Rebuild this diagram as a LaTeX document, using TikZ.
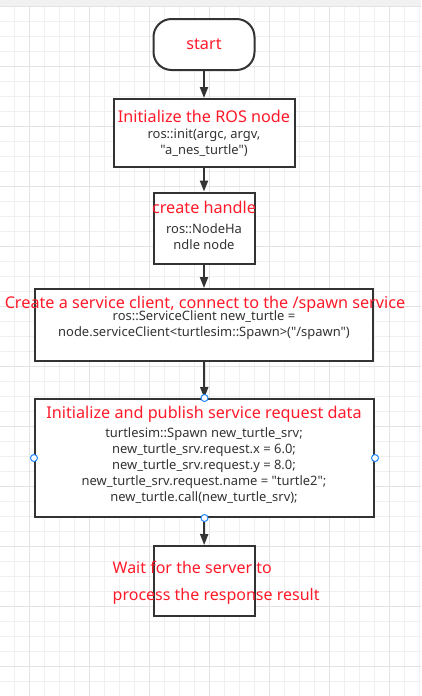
\documentclass[tikz,border=0pt]{standalone}
\usepackage{fontspec}
\setmainfont{Noto Sans}
\newfontfamily\codefont{Noto Sans}
\usetikzlibrary{arrows.meta}
\definecolor{edge}{HTML}{333333}
\definecolor{txtdark}{HTML}{333333}
\definecolor{titlered}{HTML}{FF1A2A}
\definecolor{gridminor}{HTML}{F0F0F0}
\definecolor{gridmajor}{HTML}{E3E3E3}
\definecolor{topbar}{HTML}{F1F1F1}
\definecolor{selblue}{HTML}{1E88FF}
\tikzset{
  box/.style={draw=edge, line width=2pt, fill=white, inner sep=0pt},
  term/.style={box, rounded corners=18pt},
  redtxt/.style={text=titlered, font=\fontsize{16.2}{20}\selectfont, inner sep=0pt, align=center},
  codetxt/.style={text=txtdark, font=\codefont\fontsize{12.95}{16}\selectfont, inner sep=0pt, align=center},
  flow/.style={draw=edge, line width=2pt, -{Triangle[width=8pt,length=11pt]}},
  handle/.style={circle, draw=selblue, fill=white, line width=1pt, minimum size=7pt, inner sep=0pt},
}
\newcommand{\dq}{"}
\begin{document}
\begin{tikzpicture}[x=1pt,y=-1pt]
\useasboundingbox (0,0) rectangle (421,696);
\fill[white] (0,0) rectangle (421,696);
% grid
\foreach \k in {0,...,28} {
  \draw[gridminor, line width=1pt] ({-0.5+15*\k},6) -- ({-0.5+15*\k},696);
}
\foreach \k in {0,...,46} {
  \draw[gridminor, line width=1pt] (0,{6.5+15*\k}) -- (421,{6.5+15*\k});
}
\foreach \k in {0,...,6} {
  \draw[gridmajor, line width=1pt] ({29.5+60*\k},6) -- ({29.5+60*\k},696);
}
\foreach \k in {0,...,11} {
  \draw[gridmajor, line width=1pt] (0,{6.5+60*\k}) -- (421,{6.5+60*\k});
}
\fill[topbar] (0,0) rectangle (421,6);

% boxes
\node[term, minimum width=101pt, minimum height=51pt] (start) at (204,44.5) {};
\node[box, minimum width=181pt, minimum height=68pt] (init) at (204,133) {};
\node[box, minimum width=101pt, minimum height=71pt] (handle) at (204,228) {};
\node[box, minimum width=338pt, minimum height=72pt] (client) at (204,325) {};
\node[box, minimum width=339pt, minimum height=118pt] (req) at (204.5,458) {};
\node[box, minimum width=101pt, minimum height=70pt] (wait) at (204,581) {};

% connectors
\draw[flow] (start) -- (init);
\draw[flow] (init) -- (handle);
\draw[flow] (handle) -- (client);
\draw[flow] (client) -- (req);
\draw[flow] (req) -- (wait);

% texts
\node[redtxt] (t1) at (204,44) {start};
\node[redtxt] (t2) at (204,116) {Initialize the ROS node};
\node[codetxt] (c2) at (204,143) {ros::init(argc, argv,\\\dq a\_nes\_turtle\dq)};
\node[redtxt] (t3) at (204,207.5) {create handle};
\node[codetxt] (c3) at (204,237) {ros::NodeHa\\ndle node};
\node[redtxt] (t4) at (205,304) {Create a service client, connect to the /spawn service};
\node[codetxt] (c4) at (204,325.5) {ros::ServiceClient new\_turtle =\\node.serviceClient<turtlesim::Spawn>(\dq/spawn\dq)};
\node[redtxt] (t5) at (204,414) {Initialize and publish service request data};
\node[codetxt] (c5) at (204,466) {turtlesim::Spawn new\_turtle\_srv;\\new\_turtle\_srv.request.x = 6.0;\\new\_turtle\_srv.request.y = 8.0;\\new\_turtle\_srv.request.name = \dq turtle2\dq;\\new\_turtle.call(new\_turtle\_srv);};
\node[redtxt, align=left, anchor=west, font=\fontsize{16}{27}\selectfont] (t6) at (112.5,582.5) {Wait for the server to\\process the response result};

% selection handles
\node[handle] (h1) at (req.north) {};
\node[handle] (h2) at (req.west) {};
\node[handle] (h3) at (req.east) {};
\node[handle] (h4) at (req.south) {};
\end{tikzpicture}
\end{document}
